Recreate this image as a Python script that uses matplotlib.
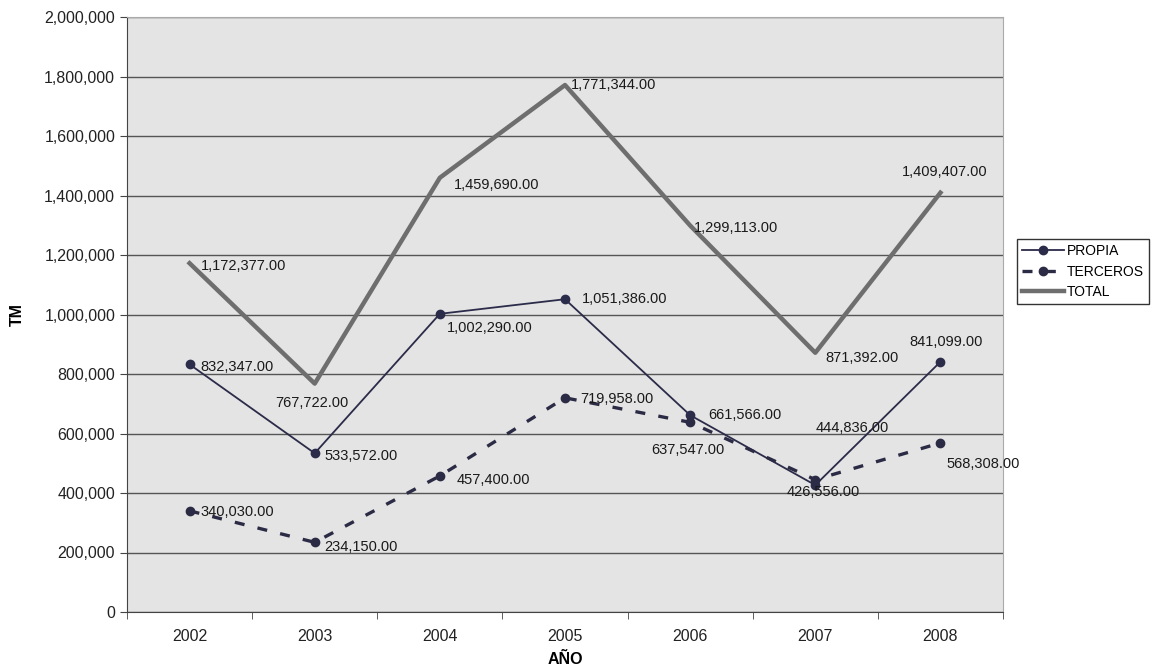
import matplotlib
matplotlib.use("Agg")
import matplotlib.pyplot as plt
from matplotlib.ticker import FuncFormatter, FixedLocator

plt.rcParams['font.family'] = ['Liberation Sans', 'DejaVu Sans']

years = ['2002', '2003', '2004', '2005', '2006', '2007', '2008']
propia = [832347, 533572, 1002290, 1051386, 661566, 426556, 841099]
terceros = [340030, 234150, 457400, 719958, 637547, 444836, 568308]
total = [1172377, 767722, 1459690, 1771344, 1299113, 871392, 1409407]

# label offsets in points (dx, dy, ha)
off_total = [(8, -2, 'left'), (-2, -14, 'center'), (10, -5, 'left'), (4, 0, 'left'),
             (3, -2, 'left'), (7, -4, 'left'), (3, 15, 'center')]
off_propia = [(8, -2, 'left'), (7, -2, 'left'), (5, -10, 'left'), (12, 0, 'left'),
              (13, 0, 'left'), (6, -5, 'center'), (4, 14, 'center')]
off_terceros = [(8, -1, 'left'), (7, -3, 'left'), (12, -3, 'left'), (11, -1, 'left'),
                (-28, -20, 'left'), (0, 37, 'left'), (4, -15, 'left')]

fig = plt.figure(figsize=(11.66, 6.68), dpi=100)
ax = fig.add_axes([127/1166, 56/668, 876/1166, 595/668])
ax.set_facecolor('#e4e4e4')
x = list(range(len(years)))

ax.set_ylim(0, 2000000)
ax.set_xlim(-0.5, len(years) - 0.5)
ax.yaxis.set_major_locator(FixedLocator([i * 200000 for i in range(11)]))
ax.yaxis.set_major_formatter(FuncFormatter(lambda v, p: f'{int(v):,}'))
ax.set_xticks(x)
ax.set_xticklabels(years)
ax.set_xticks([i - 0.5 for i in range(len(years) + 1)], minor=True)
ax.tick_params(axis='x', which='major', length=0, pad=12, labelsize=11.5, colors='#222')
ax.tick_params(axis='x', which='minor', length=5, color='#444')
ax.tick_params(axis='y', length=5, labelsize=11.5, color='#444', labelcolor='#222')
ax.grid(axis='y', color='#555555', linewidth=1.0)
ax.set_axisbelow(True)
for s in ['top', 'right']:
    ax.spines[s].set_color('#aaaaaa')
for s in ['left', 'bottom']:
    ax.spines[s].set_color('#444444')

ax.plot(x, total, color='#6e6e6e', linewidth=3.2, label='TOTAL', zorder=3)
ax.plot(x, propia, color='#2b2b4a', linewidth=1.3, marker='o', markersize=6,
        label='PROPIA', zorder=4)
ax.plot(x, terceros, color='#2b2b45', linewidth=2.4, linestyle=(0, (3, 4)),
        marker='o', markersize=6, label='TERCEROS', zorder=4)

for series, offs in [(total, off_total), (propia, off_propia), (terceros, off_terceros)]:
    for xi, v, (dx, dy, ha) in zip(x, series, offs):
        ax.annotate(f'{v:,.2f}', (xi, v), xytext=(dx, dy), textcoords='offset points',
                    ha=ha, va='center', fontsize=10.5, color='#1a1a1a', zorder=5)

ax.set_xlabel('AÑO', fontsize=11.5, fontweight='bold', labelpad=6)
ax.set_ylabel('TM', fontsize=11.5, fontweight='bold', labelpad=14)

handles, labels = ax.get_legend_handles_labels()
order = [1, 2, 0]
leg = fig.legend([handles[i] for i in order], [labels[i] for i in order],
                 loc='upper left', bbox_to_anchor=(1016/1166, 1 - 238/668),
                 bbox_transform=fig.transFigure, fontsize=10, frameon=True,
                 fancybox=False, edgecolor='#333333', framealpha=1,
                 handlelength=3.0, borderpad=0.35, labelspacing=0.45,
                 handletextpad=0.2, borderaxespad=0.1)
leg.get_frame().set_linewidth(1.0)

fig.savefig('out.png', dpi=100)
